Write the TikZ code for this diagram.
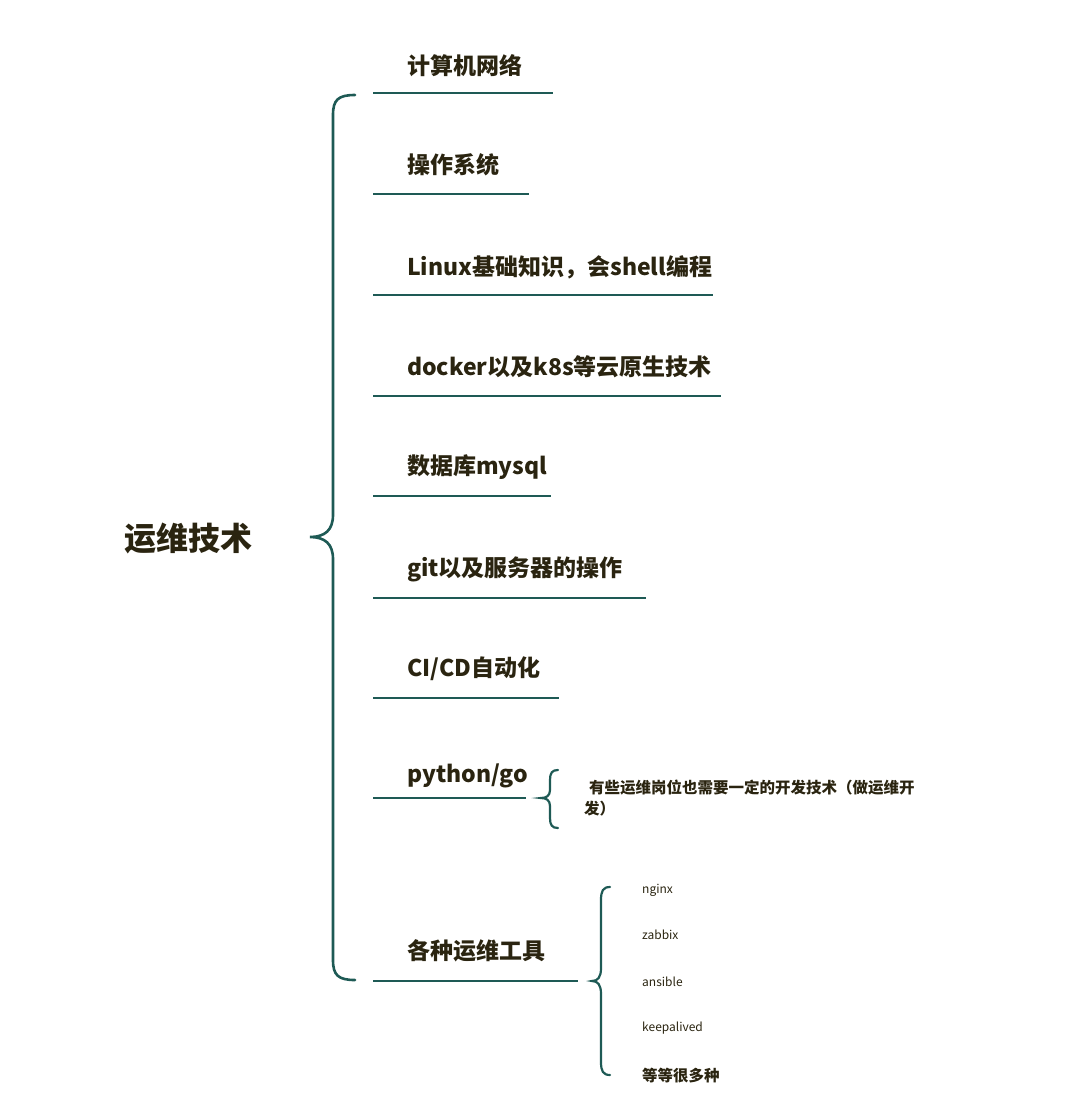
\documentclass[tikz,border=0pt]{standalone}
\usepackage{fontspec}
\setmainfont{Noto Sans CJK SC}
\definecolor{teal}{HTML}{1E5A55}
\definecolor{txt}{HTML}{2A2410}
\begin{document}
\begin{tikzpicture}[x=1pt,y=-1pt,
  ul/.style={draw=teal,line width=2.2pt},
  br/.style={draw=teal,line width=2.6pt,line cap=round},
  item/.style={anchor=west,inner sep=0,text=txt,font=\fontsize{23}{27}\selectfont\bfseries},
  small/.style={anchor=west,inner sep=0,text=txt,font=\fontsize{12}{14}\selectfont}]
\useasboundingbox (0,0) rectangle (1080,1095);
\node[anchor=center,inner sep=0,text=txt,font=\fontsize{32}{36}\selectfont\bfseries] (root) at (188,538) {运维技术};
% main brace
\draw[br] (355,95) .. controls (338,95) and (333,100) .. (333,115) -- (333,515) .. controls (333,530) and (325,537) .. (310,537) .. controls (325,537) and (333,544) .. (333,559) -- (333,960) .. controls (333,975) and (338,980) .. (355,980);
\foreach \n/\t/\ty/\ly/\lx in {
 a/{计算机网络}/66/93/553,
 b/{操作系统}/165/194/529,
 c/{Linux基础知识，会shell编程}/267/295/713,
 d/{docker以及k8s等云原生技术}/367/396/721,
 e/{数据库mysql}/467/496/551,
 f/{git以及服务器的操作}/569/598/646,
 g/{CI/CD自动化}/669/698/559,
 h/{python/go}/776/798/526,
 i/{各种运维工具}/951/981/578}{
  \node[item] (\n) at (407,\ty) {\t};
  \coordinate (\n L) at (373,\ly);
  \coordinate (\n R) at (\lx,\ly);
  \draw[ul] (\n L) -- (\n R);
}
% python brace
\draw[br,line width=2.2pt] (558,770) .. controls (552,770) and (550,773) .. (550,780) -- (550,790) .. controls (550,796) and (546,798) .. (541,798) .. controls (546,798) and (550,800) .. (550,806) -- (550,818) .. controls (550,825) and (552,828) .. (558,828);
\node[small,font=\fontsize{15.5}{18}\selectfont\bfseries] (note) at (589,788) {有些运维岗位也需要一定的开发技术（做运维开};
\node[small,font=\fontsize{15.5}{18}\selectfont\bfseries] (note2) at (584,809) {发）};
% tools brace
\draw[br,line width=2.2pt] (610,887) .. controls (603,887) and (601,891) .. (601,900) -- (601,968) .. controls (601,977) and (598,981) .. (592,981) .. controls (598,981) and (601,985) .. (601,994) -- (601,1062) .. controls (601,1071) and (603,1075) .. (610,1075);
\node[small] (t1) at (642,890) {nginx};
\node[small] (t2) at (642,935) {zabbix};
\node[small] (t3) at (642,982) {ansible};
\node[small] (t4) at (642,1028) {keepalived};
\node[small,font=\fontsize{15.5}{18}\selectfont\bfseries] (t5) at (642,1076) {等等很多种};
\end{tikzpicture}
\end{document}
